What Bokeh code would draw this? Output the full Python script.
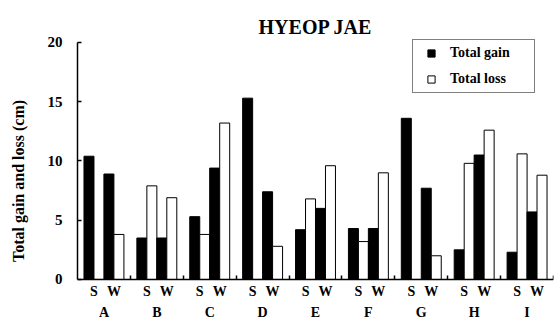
import numpy as np
from bokeh.plotting import figure
from bokeh.models import (Range1d, LinearAxis, FixedTicker, Legend, LegendItem,
                          CustomJSTickFormatter)
from bokeh.embed import file_html
from bokeh.resources import INLINE

# ---- data ----
groups = ["A", "B", "C", "D", "E", "F", "G", "H", "I"]
seasons = ["S", "W"]
gain_S = [10.4, 3.5, 5.3, 15.3, 4.2, 4.3, 13.6, 2.5, 2.3]
loss_S = [0.0, 7.9, 3.8, 0.0, 6.8, 3.2, 0.0, 9.8, 10.6]
gain_W = [8.9, 3.5, 9.4, 7.4, 6.0, 4.3, 7.7, 10.5, 5.7]
loss_W = [3.8, 6.9, 13.2, 2.8, 9.6, 9.0, 2.0, 12.6, 8.8]
y_ticks = [0, 5, 10, 15, 20]

FONT = "Liberation Serif"
n = len(groups)
idx = np.arange(n)
BW = 0.189                          # bar width (group units)
OFF = [0.217, 0.406, 0.594, 0.783]  # bar centres inside a group

# frame reaches the bottom edge; the x axis sits at y = 0 inside it
p = figure(width=555, height=322, x_range=Range1d(0, n), y_range=Range1d(-3.63, 20.25),
           x_axis_location=None, output_backend="svg", toolbar_location=None,
           min_border_left=77, min_border_right=2, min_border_top=39, min_border_bottom=0)
p.outline_line_color = None
p.grid.visible = False

p.vbar(x=idx + OFF[0], top=gain_S, width=BW, fill_color="black", line_color="black")
p.vbar(x=idx + OFF[1], top=loss_S, width=BW, fill_color="white", line_color="black")
p.vbar(x=idx + OFF[2], top=gain_W, width=BW, fill_color="black", line_color="black")
p.vbar(x=idx + OFF[3], top=loss_W, width=BW, fill_color="white", line_color="black")

# y axis
yax = p.yaxis[0]
yax.bounds = (0, 20)
yax.ticker = FixedTicker(ticks=y_ticks)
yax.major_tick_in = 4
yax.major_tick_out = 0
yax.minor_tick_line_color = None
yax.axis_line_width = 1.5
yax.major_tick_line_width = 1.5
yax.major_label_standoff = 15
yax.major_label_text_font = FONT
yax.major_label_text_font_style = "bold"
yax.major_label_text_font_size = "15px"
yax.major_label_text_color = "black"
yax.axis_label = "Total gain and loss (cm)"
yax.axis_label_text_font = FONT
yax.axis_label_text_font_style = "bold"
yax.axis_label_text_font_size = "16px"
yax.axis_label_text_color = "black"
yax.axis_label_standoff = 18

# bottom axis: S/W labels + group letters (second line), boundary ticks as minor ticks
sw_pos = list(idx + (OFF[0] + OFF[1]) / 2) + list(idx + (OFF[2] + OFF[3]) / 2)
grp_pos = list(idx + 0.5)
xax = LinearAxis(
    fixed_location=0,
    ticker=FixedTicker(ticks=sorted(sw_pos + grp_pos), minor_ticks=list(range(1, n + 1))),
    formatter=CustomJSTickFormatter(
        args=dict(s=seasons, g=groups),
        code="""const f = tick - Math.floor(tick);
                if (Math.abs(f - 0.5) < 0.01) return "\\n" + g[Math.floor(tick)];
                return f < 0.5 ? s[0] : s[1];"""),
    major_tick_line_color=None, major_tick_in=0, major_tick_out=0,
    minor_tick_in=4, minor_tick_out=0, minor_tick_line_color="black", minor_tick_line_width=1.5,
    axis_line_width=1.5, axis_line_color="black",
    major_label_standoff=5,
    major_label_text_font=FONT, major_label_text_font_style="bold",
    major_label_text_font_size="14px", major_label_text_color="black",
    major_label_text_line_height=1.36)
p.add_layout(xax, "below")

# title
p.title.text = "HYEOP JAE"
p.title.align = "center"
p.title.vertical_align = "top"
p.title.text_font = FONT
p.title.text_font_style = "bold"
p.title.text_font_size = "20px"
p.title.text_color = "black"
p.title.standoff = 0

# legend (hidden marker renderers give the small squares)
rg = p.scatter(x=idx + OFF[0], y=gain_S, marker="square", fill_color="black",
               line_color="black", visible=False)
rl = p.scatter(x=idx + OFF[1], y=loss_S, marker="square", fill_color="white",
               line_color="black", visible=False)
legend = Legend(items=[LegendItem(label="Total gain", renderers=[rg]),
                       LegendItem(label="Total loss", renderers=[rl])],
                location=(335, 229), margin=0, padding=4, spacing=8,
                glyph_width=28, glyph_height=18, label_height=18, label_width=80,
                label_standoff=5, label_text_font=FONT, label_text_font_style="bold",
                label_text_font_size="14px", label_text_color="black",
                border_line_color="black", border_line_width=1.5,
                background_fill_color="white", background_fill_alpha=1)
p.add_layout(legend)

open("out.html", "w").write(file_html(p, INLINE))
